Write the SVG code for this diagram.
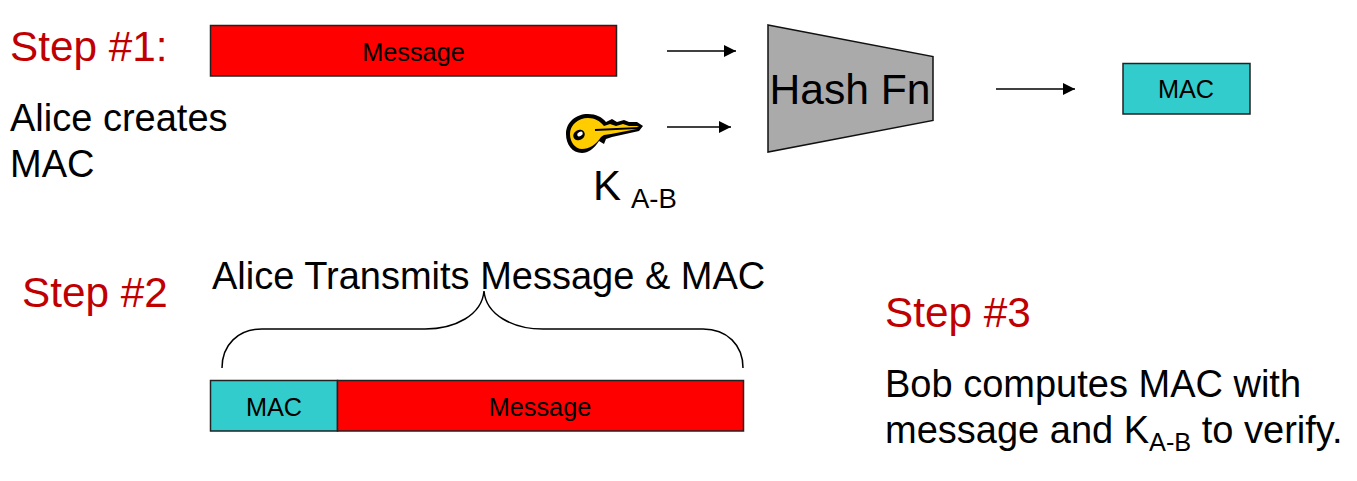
<svg xmlns="http://www.w3.org/2000/svg" width="1357" height="481" viewBox="0 0 1357 481">
<style>
text{font-family:"Liberation Sans",Arial,sans-serif;fill:#000}
.step{font-size:42.300px;fill:#c00000}
.body{font-size:38px}
.small{font-size:25.300px}
.box{stroke:#222;stroke-width:1.5}
.red{fill:#ff0000}
.teal{fill:#33cccc}
.line{fill:none;stroke:#000;stroke-width:1.5}
</style>
<defs>
<marker id="arr" markerUnits="userSpaceOnUse" markerWidth="13" markerHeight="13" refX="12" refY="6" orient="auto"><path d="M0 0L12 6L0 12Z" fill="#000"/></marker>
</defs>
<rect width="1357" height="481" fill="#fff"/>
<g id="step1-label"><text class="step" x="10" y="61">Step #1:</text></g>
<g id="alice-creates"><text class="body" x="10" y="131">Alice creates</text><text class="body" x="10" y="177">MAC</text></g>
<g id="message-1"><rect class="box red" x="210.500" y="25.500" width="406" height="50.500"/><text class="small" x="413.500" y="61" text-anchor="middle">Message</text></g>
<g id="hash-fn"><path d="M768 25L933 56.500V120.500L768 152Z" fill="#aaaaaa" stroke="#111" stroke-width="1.500"/><text x="850" y="104" font-size="42.600" text-anchor="middle">Hash Fn</text></g>
<g id="mac-1"><rect class="box teal" x="1123" y="63.500" width="127" height="50.500"/><text class="small" x="1186" y="98" text-anchor="middle">MAC</text></g>
<g id="key">
<path d="M566 134C566 122 576 114 588 114C596 114 602 117 606 122L612 119L617 122L624 120L629 122L637 122L643 126L639 131L612 137L606 139L604 144L599 141C594 149 588 153 582 153C572 153 566 144 566 134Z" fill="#000"/>
<path d="M570 134C570 125 578 118 588 118C595 118 600 121 604 126L610 124L616 126L623 124L629 126L637 126L639 127L595 129V131L637 129L611 134L604 135L601 137C596 145 589 149 582 149C575 149 570 142 570 134Z" fill="#ffcc00"/>
<ellipse cx="579" cy="135" rx="6" ry="5" fill="#000" transform="rotate(-30 579 135)"/>
<ellipse cx="580" cy="134" rx="3" ry="2" fill="#fff" transform="rotate(-30 580 134)"/>
</g>
<g id="key-label"><text x="593" y="200" font-size="42">K</text><text x="631" y="208" font-size="27.500">A-B</text></g>
<g id="step2-label"><text class="step" x="22" y="307">Step #2</text></g>
<g id="transmit-label"><text class="body" x="212" y="289">Alice Transmits Message &amp; MAC</text></g>
<g id="frame">
<rect class="box teal" x="210.500" y="380.500" width="127" height="50.500"/><text class="small" x="274" y="416" text-anchor="middle">MAC</text>
<rect class="box red" x="337.500" y="380.500" width="406" height="50.500"/><text class="small" x="540" y="416" text-anchor="middle">Message</text>
</g>
<g id="step3-label"><text class="step" x="885" y="327">Step #3</text></g>
<g id="bob-text"><text class="body" x="885" y="397">Bob computes MAC with</text><text class="body" x="885" y="443">message and K<tspan font-size="25.300" dy="8">A-B</tspan><tspan dy="-8"> to verify.</tspan></text></g>
<g id="connectors">
<path class="line" d="M667 51H736" marker-end="url(#arr)"/>
<path class="line" d="M667 127H731" marker-end="url(#arr)"/>
<path class="line" d="M996 89H1075" marker-end="url(#arr)"/>
<path class="line" d="M222 368C222 345 238 329 262 329H425C455 329 482 315 484 291C486 315 513 329 543 329H703C727 329 743 345 743 368"/>
</g>
</svg>
